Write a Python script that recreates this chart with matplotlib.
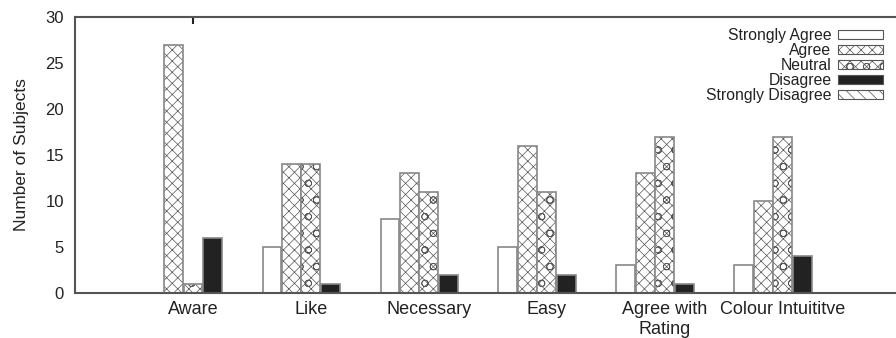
import numpy as np
import matplotlib.pyplot as plt

plt.rcParams['font.family'] = ['Liberation Sans', 'DejaVu Sans']
plt.rcParams['hatch.linewidth'] = 0.5

categories = ["Aware", "Like", "Necessary", "Easy", "Agree with\nRating", "Colour Intuititve"]
series = ["Strongly Agree", "Agree", "Neutral", "Disagree", "Strongly Disagree"]
strongly_agree = [0, 5, 8, 5, 3, 3]
agree = [27, 14, 13, 16, 13, 10]
neutral = [1, 14, 11, 11, 17, 17]
disagree = [6, 1, 2, 2, 1, 4]
strongly_disagree = [0, 0, 0, 0, 0, 0]

values = [strongly_agree, agree, neutral, disagree, strongly_disagree]
faces = ["white", "white", "white", "#222222", "white"]
hatches = [None, "xxx", "xxxo", None, "\\\\\\"]

fig = plt.figure(figsize=(8.96, 3.38), dpi=100)
ax = fig.add_axes([0.0837, 0.133, 0.9163, 0.817])

x = np.arange(1, len(categories) + 1)
w = 0.165
for i, (name, vals) in enumerate(zip(series, values)):
    pos = x + (i - 2) * w
    # hatch layer in dark, outline in gray on top
    ax.bar(pos, vals, width=w * 0.97, color=faces[i], hatch=hatches[i],
           edgecolor="#555555", linewidth=0)
    ax.bar(pos, vals, width=w * 0.97, fill=False, edgecolor="#888888", linewidth=1.2)

# legend proxies
handles = []
for i, name in enumerate(series):
    h = plt.Rectangle((0, 0), 1, 1, facecolor=faces[i], hatch=hatches[i],
                      edgecolor="#555555", linewidth=0.8)
    handles.append(h)

ax.set_xlim(0.0, 6.96)
ax.set_ylim(0, 30)
ax.set_xticks(x)
ax.set_xticklabels(categories, fontsize=13, color="#222222")
ax.set_yticks(range(0, 31, 5))
ax.tick_params(axis="y", labelsize=12, length=0, pad=8, colors="#222222")
ax.tick_params(axis="x", length=0, pad=6)
ax.set_ylabel("Number of Subjects", fontsize=12.5, color="#222222", labelpad=12)

for s in ["left", "bottom", "top"]:
    ax.spines[s].set_color("#555555")
    ax.spines[s].set_linewidth(1.5)
ax.spines["right"].set_visible(False)

top = ax.secondary_xaxis("top")
top.set_xticks([1])
top.set_xticklabels([])
top.tick_params(direction="in", length=5, width=1.5, color="#222222")
top.spines["top"].set_visible(False)

leg = ax.legend(handles, series, loc="upper right", bbox_to_anchor=(0.998, 1.0), frameon=False,
                markerfirst=False, fontsize=11.3, handlelength=2.9, handleheight=0.55,
                labelspacing=0.0, handletextpad=0.4, borderpad=0.2)
for t in leg.get_texts():
    t.set_color("#222222")

fig.savefig("out.png", dpi=100)
